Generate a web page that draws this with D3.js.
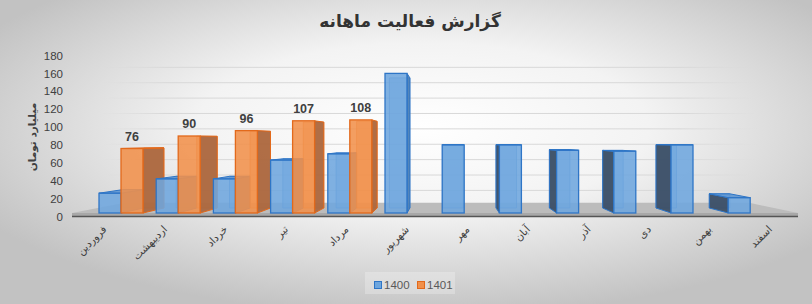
<!DOCTYPE html>
<html>
<head>
<meta charset="utf-8">
<script src="https://cdn.jsdelivr.net/npm/d3@7"></script>
<style>
  body { margin: 0; background: #fff; }
  svg { display: block; }
</style>
</head>
<body>
<div id="chart"></div>
<script>
const months = ["فروردین", "اردیبهشت", "خرداد", "تیر", "مرداد", "شهریور", "مهر", "آبان", "آذر", "دی", "بهمن", "اسفند"];
const series = ["1400", "1401"];
const values1400 = [26, 42, 42, 63, 70, 160, 80, 80, 74, 73, 80, 21];
const values1401 = [76, 90, 96, 107, 108, null, null, null, null, null, null, null];
const yTicks = [0, 20, 40, 60, 80, 100, 120, 140, 160, 180];

const width = 812, height = 304;
const persian = "'DejaVu Sans', sans-serif";
const latin = "'Liberation Sans', Arial, sans-serif";

// fake 3d: everything recedes toward one vanishing point
const vpX = 450, vpY = 140;
const kBar = 0.068;   // depth of a bar
const kWall = 0.14;   // depth of the floor / back wall
const floorTop = 213;

const colors = {
  "1400": { front: "#6ea6de", edge: "#2e75c6", right: "#4b7fb5", left: "#3c4f66", top: "#5c95d2" },
  "1401": { front: "#f1914b", edge: "#e2691b", right: "#a9663e", left: "#a9663e", top: "#de7d3b" }
};

const svg = d3.select("#chart").append("svg")
  .attr("width", width)
  .attr("height", height);

const defs = svg.append("defs");
const bg = defs.append("radialGradient")
  .attr("id", "bg")
  .attr("cx", "52%").attr("cy", "42%").attr("r", "62%");
bg.append("stop").attr("offset", "0%").attr("stop-color", "#ffffff");
bg.append("stop").attr("offset", "45%").attr("stop-color", "#f3f3f3");
bg.append("stop").attr("offset", "100%").attr("stop-color", "#c2c2c2");

const gridFade = defs.append("linearGradient")
  .attr("id", "gridFade")
  .attr("gradientUnits", "userSpaceOnUse")
  .attr("x1", 100).attr("x2", 760).attr("y1", 0).attr("y2", 0);
gridFade.append("stop").attr("offset", "0%").attr("stop-color", "#d8d8d8").attr("stop-opacity", 0);
gridFade.append("stop").attr("offset", "10%").attr("stop-color", "#d8d8d8").attr("stop-opacity", 1);
gridFade.append("stop").attr("offset", "88%").attr("stop-color", "#d8d8d8").attr("stop-opacity", 1);
gridFade.append("stop").attr("offset", "100%").attr("stop-color", "#d8d8d8").attr("stop-opacity", 0);

svg.append("rect")
  .attr("width", width)
  .attr("height", height)
  .attr("fill", "url(#bg)");

const y = d3.scaleLinear()
  .domain([0, 180])
  .range([216.5, 55.5]);

// bars sit a bit behind the front of the floor
const x0 = d3.scaleBand()
  .domain(months)
  .range([92.4, 778.8]);

const x1 = d3.scaleBand()
  .domain(series)
  .range([6.6, 50.6]);

// category labels follow the front edge of the floor
const xFront = d3.scaleBand()
  .domain(months)
  .range([72, 798]);

function back(p, k) {
  return [p[0] + (vpX - p[0]) * k, p[1] + (vpY - p[1]) * k];
}

function pts(arr) {
  return arr.map(p => p[0].toFixed(1) + "," + p[1].toFixed(1)).join(" ");
}

// back wall grid lines
svg.append("g")
  .selectAll("line")
  .data(yTicks.slice(1))
  .enter()
  .append("line")
  .attr("x1", 100)
  .attr("x2", 760)
  .attr("y1", d => back([0, y(d)], kWall)[1])
  .attr("y2", d => back([0, y(d)], kWall)[1])
  .attr("stroke", "url(#gridFade)")
  .attr("stroke-width", 1);

// floor
const fl = [72, floorTop], fr = [798, floorTop];
svg.append("polygon")
  .attr("points", pts([fl, fr, back(fr, kWall), back(fl, kWall)]))
  .attr("fill", "#bcbcbc");
svg.append("rect")
  .attr("x", 72).attr("y", floorTop)
  .attr("width", 726).attr("height", 3)
  .attr("fill", "#a8a8a8");
svg.append("line")
  .attr("x1", 72).attr("x2", 798)
  .attr("y1", 216.5).attr("y2", 216.5)
  .attr("stroke", "#555")
  .attr("stroke-width", 1.5);

function drawBar(g, xa, xb, yT, yB, c) {
  const fTL = [xa, yT], fTR = [xb, yT], fBR = [xb, yB], fBL = [xa, yB];
  const bTL = back(fTL, kBar), bTR = back(fTR, kBar), bBR = back(fBR, kBar), bBL = back(fBL, kBar);

  // back edges show through the transparent faces
  g.append("polygon")
    .attr("points", pts([bTL, bTR, bBR, bBL]))
    .attr("fill", c.front)
    .attr("fill-opacity", 0.5)
    .attr("stroke", c.edge)
    .attr("stroke-opacity", 0.6)
    .attr("stroke-width", 1);

  if (xb < vpX) {
    g.append("polygon")
      .attr("points", pts([fTR, bTR, bBR, fBR]))
      .attr("fill", c.right)
      .attr("fill-opacity", 0.92)
      .attr("stroke", c.edge)
      .attr("stroke-width", 1);
  }
  if (xa > vpX) {
    g.append("polygon")
      .attr("points", pts([fTL, bTL, bBL, fBL]))
      .attr("fill", c.left)
      .attr("fill-opacity", 0.95)
      .attr("stroke", c.edge)
      .attr("stroke-width", 1);
  }
  if (yT > vpY) {
    g.append("polygon")
      .attr("points", pts([fTL, fTR, bTR, bTL]))
      .attr("fill", c.top)
      .attr("fill-opacity", 0.9)
      .attr("stroke", c.edge)
      .attr("stroke-width", 1);
  }

  g.append("rect")
    .attr("x", xa)
    .attr("y", yT)
    .attr("width", xb - xa)
    .attr("height", yB - yT)
    .attr("fill", c.front)
    .attr("fill-opacity", 0.88)
    .attr("stroke", c.edge)
    .attr("stroke-width", 1.3);
}

const bars = svg.append("g");
months.forEach((m, i) => {
  [values1400[i], values1401[i]].forEach((v, j) => {
    if (v == null) return;
    const s = series[j];
    const xa = x0(m) + x1(s);
    drawBar(bars, xa, xa + x1.bandwidth(), y(v), floorTop, colors[s]);
  });
});

// data labels, only the 1401 series has them
svg.append("g")
  .selectAll("text")
  .data(months.map((m, i) => ({ m: m, v: values1401[i] })).filter(d => d.v != null))
  .enter()
  .append("text")
  .attr("x", d => x0(d.m) + x1("1401") + x1.bandwidth() / 2)
  .attr("y", d => y(d.v) - 8)
  .attr("text-anchor", "middle")
  .attr("font-family", latin)
  .attr("font-weight", "bold")
  .attr("font-size", "12.5px")
  .attr("fill", "#404040")
  .text(d => d.v);

// y axis
const yAxis = svg.append("g")
  .attr("transform", "translate(66,0)")
  .call(d3.axisLeft(y).tickValues(yTicks).tickSize(0).tickPadding(3));
yAxis.select(".domain").remove();
yAxis.selectAll("text")
  .attr("font-family", latin)
  .attr("font-size", "11.5px")
  .attr("fill", "#404040");

// category labels
svg.append("g")
  .selectAll("text")
  .data(months)
  .enter()
  .append("text")
  .attr("transform", d => "translate(" + (xFront(d) + xFront.bandwidth() / 2 + 5) + ",230) rotate(-45)")
  .attr("text-anchor", "end")
  .attr("font-family", persian)
  .attr("font-size", "10.5px")
  .attr("fill", "#404040")
  .text(d => d);

// titles
svg.append("text")
  .attr("x", 410)
  .attr("y", 27)
  .attr("text-anchor", "middle")
  .attr("font-family", persian)
  .attr("font-weight", "bold")
  .attr("font-size", "17px")
  .attr("fill", "#333333")
  .text("گزارش فعالیت ماهانه");

svg.append("text")
  .attr("transform", "translate(36,137) rotate(-90)")
  .attr("text-anchor", "middle")
  .attr("font-family", persian)
  .attr("font-weight", "bold")
  .attr("font-size", "10.5px")
  .attr("fill", "#404040")
  .text("میلیارد تومان");

// legend
const legend = svg.append("g").attr("transform", "translate(374,281)");
legend.append("rect")
  .attr("x", -9).attr("y", -9)
  .attr("width", 90).attr("height", 22)
  .attr("fill", "#ffffff").attr("fill-opacity", 0.25);
series.forEach((s, i) => {
  const item = legend.append("g").attr("transform", "translate(" + (i * 43) + ",0)");
  item.append("rect")
    .attr("x", 0.5).attr("y", 0.5)
    .attr("width", 7).attr("height", 7)
    .attr("fill", colors[s].front)
    .attr("stroke", colors[s].edge);
  item.append("text")
    .attr("x", 10)
    .attr("y", 7.5)
    .attr("font-family", latin)
    .attr("font-size", "11.5px")
    .attr("fill", "#595959")
    .text(s);
});
</script>
</body>
</html>
